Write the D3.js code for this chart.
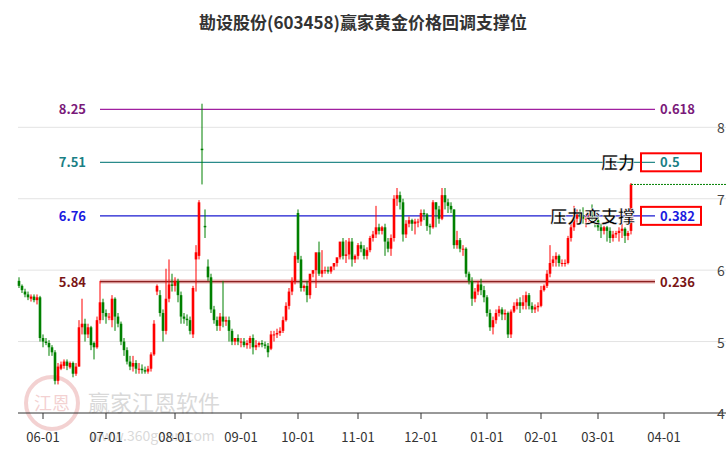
<!DOCTYPE html>
<html><head><meta charset="utf-8">
<script src="https://cdn.jsdelivr.net/npm/d3@7"></script>
<style>body{margin:0;background:#fff}svg{font-family:"Noto Sans CJK SC","Noto Sans",sans-serif}</style>
</head><body><div id="chart"></div>
<script>
// candles, one per trading day
const opens = [5.85,5.78,5.70,5.66,5.60,5.63,5.58,5.62,5.05,5.00,
4.98,4.92,4.85,4.45,4.62,4.66,4.72,4.64,4.70,4.55,
4.65,5.20,5.25,5.10,5.20,4.98,4.92,5.30,5.55,5.40,
5.35,5.30,5.60,5.35,5.25,5.00,4.88,4.72,4.65,4.70,
4.62,4.62,4.60,4.58,4.62,4.82,5.70,5.65,5.40,5.15,
5.60,5.80,5.78,5.85,5.65,5.35,5.32,5.30,5.10,6.15,
6.20,7.70,6.62,6.05,5.90,5.45,5.30,5.22,5.35,5.28,
5.30,5.15,5.00,5.05,5.00,5.00,4.95,4.98,5.05,4.92,
4.95,4.98,4.96,4.94,4.90,5.10,5.10,5.12,5.15,5.30,
5.50,5.70,5.85,6.80,6.15,5.75,5.78,5.65,5.95,6.00,
6.25,5.95,6.00,6.00,5.98,6.05,6.10,6.18,6.40,6.20,
6.22,6.40,6.15,6.20,6.35,6.30,6.20,6.28,6.45,6.50,
6.60,6.55,6.60,6.40,6.30,6.45,7.00,7.05,6.95,6.50,
6.65,6.70,6.65,6.68,6.68,6.80,6.78,6.62,6.60,6.95,
6.85,6.72,7.05,6.95,6.90,6.85,6.35,6.42,6.30,6.30,
5.95,5.85,5.60,5.70,5.80,5.72,5.62,5.40,5.20,5.30,
5.40,5.45,5.38,5.40,5.10,5.42,5.50,5.55,5.50,5.55,
5.65,5.50,5.45,5.48,5.50,5.72,5.78,5.95,6.10,6.15,
6.20,6.10,6.10,6.10,6.45,6.60,6.72,6.80,6.75,6.72,
6.72,6.75,6.72,6.70,6.60,6.55,6.60,6.55,6.45,6.50,
6.52,6.55,6.58,6.48,6.55];
const closes = [5.78,5.72,5.66,5.62,5.63,5.58,5.62,5.05,5.00,4.98,
4.92,4.85,4.45,4.65,4.68,4.72,4.66,4.70,4.55,4.65,
5.20,5.25,5.10,5.20,4.95,4.92,5.30,5.55,5.40,5.35,
5.35,5.60,5.35,5.25,5.00,4.88,4.72,4.65,4.70,4.62,
4.62,4.60,4.58,4.62,4.82,5.25,5.78,5.40,5.15,5.60,
5.80,5.78,5.85,5.65,5.35,5.32,5.30,5.15,5.75,6.25,
6.95,7.68,6.60,5.90,5.45,5.30,5.22,5.35,5.28,5.30,
5.15,5.00,5.05,5.00,5.00,4.95,4.98,5.05,4.92,4.95,
4.98,4.96,4.94,4.85,5.10,5.10,5.12,5.15,5.30,5.50,
5.70,5.85,6.20,6.15,5.75,5.78,5.65,5.95,6.00,6.25,
5.95,6.00,6.00,5.98,6.05,6.10,6.18,6.40,6.20,6.22,
6.40,6.15,6.20,6.35,6.30,6.20,6.28,6.45,6.50,6.60,
6.55,6.60,6.40,6.30,6.45,7.00,7.05,6.95,6.50,6.65,
6.70,6.65,6.68,6.68,6.80,6.78,6.62,6.60,6.95,6.85,
6.72,7.05,6.95,6.90,6.85,6.35,6.42,6.30,6.30,5.95,
5.85,5.60,5.70,5.80,5.72,5.62,5.40,5.20,5.30,5.40,
5.45,5.38,5.40,5.10,5.42,5.50,5.55,5.50,5.55,5.65,
5.50,5.45,5.48,5.50,5.72,5.78,5.95,6.10,6.15,6.20,
6.10,6.10,6.10,6.45,6.60,6.72,6.80,6.75,6.72,6.72,
6.75,6.72,6.70,6.60,6.55,6.60,6.55,6.45,6.50,6.52,
6.55,6.58,6.48,6.52,7.20];
const highs = [5.90,5.80,5.74,5.70,5.66,5.66,5.66,5.64,5.10,5.05,
5.02,4.95,4.88,4.70,4.72,4.75,4.75,4.72,4.72,4.70,
5.30,5.60,5.32,5.25,5.22,5.00,5.35,5.85,5.60,5.45,
5.40,5.65,5.62,5.40,5.28,5.05,4.92,4.80,4.80,4.74,
4.70,4.68,4.65,4.66,4.85,5.30,5.80,5.72,5.45,6.02,
6.15,5.95,5.90,5.88,5.70,5.40,5.38,5.35,5.78,6.35,
6.98,8.33,6.85,6.15,5.95,5.50,5.35,5.40,5.85,5.35,
5.35,5.18,5.05,5.10,5.05,5.05,5.02,5.08,5.10,5.02,
5.00,5.02,5.00,4.98,5.15,5.15,5.18,5.20,5.35,5.55,
5.75,5.90,6.25,6.85,6.20,5.80,5.85,5.70,6.00,6.05,
6.40,6.28,6.05,6.05,6.05,6.10,6.15,6.22,6.45,6.42,
6.45,6.45,6.22,6.38,6.40,6.35,6.32,6.48,6.55,6.90,
6.65,6.62,6.65,6.45,6.50,7.05,7.15,7.10,7.00,6.70,
6.75,6.72,6.72,6.72,6.85,6.85,6.80,6.65,6.98,6.95,
6.90,7.15,7.15,7.00,6.95,6.85,6.55,6.45,6.35,6.32,
5.98,5.90,5.75,5.85,5.88,5.78,5.65,5.45,5.35,5.45,
5.50,5.48,5.45,5.42,5.45,5.55,5.60,5.62,5.65,5.70,
5.68,5.55,5.52,5.55,5.78,5.80,6.00,6.35,6.20,6.25,
6.22,6.15,6.15,6.48,6.65,6.90,6.85,6.85,6.88,6.78,
6.80,6.92,6.78,6.75,6.65,6.62,6.62,6.60,6.55,6.55,
6.60,6.65,6.60,6.55,7.22];
const lows = [5.75,5.68,5.62,5.58,5.56,5.55,5.52,5.00,4.92,4.95,
4.80,4.80,4.40,4.40,4.60,4.62,4.60,4.62,4.50,4.52,
4.65,5.10,5.00,5.05,4.88,4.75,4.90,5.25,5.30,5.25,
5.30,5.20,5.15,5.20,4.95,4.80,4.68,4.60,4.58,4.55,
4.55,4.55,4.55,4.55,4.58,4.80,5.65,5.35,5.00,5.10,
5.55,5.70,5.70,5.55,5.25,5.25,5.22,5.10,5.05,5.70,
6.15,7.20,6.45,5.85,5.40,5.25,5.15,5.15,5.20,5.22,
5.00,4.95,4.95,4.95,4.92,4.92,4.90,4.90,4.82,4.88,
4.92,4.92,4.90,4.78,4.88,5.00,5.05,5.08,5.12,5.28,
5.45,5.65,5.80,6.10,5.70,5.70,5.55,5.60,5.90,5.75,
5.92,5.90,5.95,5.95,5.95,6.00,6.05,6.15,6.15,6.10,
6.15,6.05,6.10,6.15,6.25,6.15,6.15,6.25,6.40,6.45,
6.50,6.50,6.20,6.25,6.20,6.40,6.90,6.85,6.40,6.45,
6.60,6.55,6.50,6.60,6.62,6.70,6.55,6.50,6.58,6.60,
6.65,6.70,6.85,6.80,6.80,6.30,6.30,6.25,6.20,5.90,
5.80,5.50,5.55,5.65,5.65,5.55,5.35,5.15,5.10,5.25,
5.35,5.30,5.30,5.05,5.05,5.40,5.45,5.40,5.45,5.45,
5.45,5.40,5.40,5.42,5.48,5.70,5.75,5.90,6.05,6.05,
6.05,6.05,6.05,6.08,6.40,6.55,6.65,6.65,6.65,6.60,
6.65,6.65,6.60,6.55,6.45,6.50,6.40,6.38,6.40,6.45,
6.40,6.45,6.38,6.42,6.50];

// month ticks: label and index of first trading day
const monthLabels = ["06-01","07-01","08-01","09-01","10-01","11-01","12-01","01-01","02-01","03-01","04-01"];
const monthIdx = [8,29,52,74,93,113,134,156,174,193,215];
const priceTicks = [4,5,6,7,8];

// golden ratio levels
const fibPrices = [8.25,7.51,6.76,5.84];
const fibRatios = ["0.618","0.5","0.382","0.236"];
const fibColors = ["#a020a0","#2a8b8b","#1a1ad0","#8b2020"];
const fibLabelColors = ["#7a1a7a","#1a7f85","#1a1ae0","#7a1515"];

const W = 726, H = 450;
const svg = d3.select("#chart").append("svg").attr("width", W).attr("height", H);

const x = d3.scaleLinear().domain([0, 204]).range([19, 631]);
const y = d3.scaleLinear().domain([4, 8]).range([413, 127.3]);

// title
svg.append("text").attr("x", W / 2).attr("y", 29).attr("text-anchor", "middle")
  .style("font-size", "17px").style("font-weight", "bold").attr("fill", "#333")
  .text("勘设股份(603458)赢家黄金价格回调支撑位");

// grid
svg.append("g").selectAll("line").data(priceTicks.slice(1)).enter().append("line")
  .attr("x1", 18).attr("x2", W).attr("y1", d => y(d)).attr("y2", d => y(d))
  .attr("stroke", "#e3e3e3").attr("stroke-width", 1);

// right price axis labels
svg.append("g").selectAll("text").data(priceTicks).enter().append("text")
  .attr("x", 717).attr("y", d => y(d) + 6).style("font-size", "14px").attr("fill", "#444")
  .text(d => d);

// watermark
const wm = svg.append("g").attr("opacity", 0.22);
wm.append("circle").attr("cx", 52).attr("cy", 403).attr("r", 26).attr("fill", "none").attr("stroke", "#c33").attr("stroke-width", 4);
wm.append("text").attr("x", 52).attr("y", 410).attr("text-anchor", "middle").style("font-size", "18px").attr("fill", "#c33").text("江恩");
wm.append("text").attr("x", 88).attr("y", 411).style("font-size", "22px").attr("fill", "#555").text("赢家江恩软件");
wm.append("text").attr("x", 90).attr("y", 441).style("font-size", "14px").attr("fill", "#555").text("www.360gann.com");

// x axis
svg.append("line").attr("x1", 18).attr("x2", W).attr("y1", 413).attr("y2", 413).attr("stroke", "#333");
const xt = svg.append("g").selectAll("g").data(monthLabels).enter().append("g")
  .attr("transform", (d, i) => `translate(${x(monthIdx[i])},413)`);
xt.append("line").attr("y2", 6).attr("stroke", "#333");
xt.append("text").attr("y", 29).attr("text-anchor", "middle").style("font-size", "13px").attr("fill", "#333").text(d => d);

// fib lines
fibPrices.forEach((p, i) => {
  if (i === 3) svg.append("line").attr("x1", 100).attr("x2", 655).attr("y1", y(p)).attr("y2", y(p))
    .attr("stroke", "#e8b0b0").attr("stroke-width", 4);
  svg.append("line").attr("x1", 100).attr("x2", 655).attr("y1", y(p)).attr("y2", y(p))
    .attr("stroke", fibColors[i]).attr("stroke-width", 1.2);
  svg.append("text").attr("x", 86).attr("y", y(p) + 5).attr("text-anchor", "end")
    .style("font-size", "13px").style("font-weight", "bold").attr("fill", fibLabelColors[i]).text(p.toFixed(2));
  svg.append("text").attr("x", 660).attr("y", y(p) + 5)
    .style("font-size", "13px").style("font-weight", "bold").attr("fill", fibLabelColors[i]).text(fibRatios[i]);
});

// candles
const idx = d3.range(closes.length);
const col = i => closes[i] >= opens[i] ? "#ff0000" : "#008000";
svg.append("g").selectAll("line").data(idx).enter().append("line")
  .attr("x1", i => x(i)).attr("x2", i => x(i))
  .attr("y1", i => y(highs[i])).attr("y2", i => y(lows[i]))
  .attr("stroke", col).attr("stroke-width", 1);
svg.append("g").selectAll("rect").data(idx).enter().append("rect")
  .attr("x", i => x(i) - 1.3).attr("width", 2.6)
  .attr("y", i => y(Math.max(opens[i], closes[i])))
  .attr("height", i => Math.max(1, Math.abs(y(opens[i]) - y(closes[i]))))
  .attr("fill", col);

// last close dotted line
const last = closes.length - 1;
svg.append("line").attr("x1", x(last)).attr("x2", W).attr("y1", y(closes[last])).attr("y2", y(closes[last]))
  .attr("stroke", "#008000").attr("stroke-dasharray", "2,1").attr("stroke-width", 1);

// annotation boxes
[[1, "压力"], [2, "压力变支撑"]].forEach(([i, t]) => {
  svg.append("rect").attr("x", 641).attr("y", y(fibPrices[i]) - 9).attr("width", 60).attr("height", 18)
    .attr("fill", "none").attr("stroke", "#ff0000").attr("stroke-width", 2);
  svg.append("text").attr("x", 635).attr("y", y(fibPrices[i]) + 7).attr("text-anchor", "end")
    .style("font-size", "17px").style("font-weight", "bold").attr("fill", "#000")
    .attr("stroke", "#fff").attr("stroke-width", 0.5).text(t);
});
</script></body></html>
